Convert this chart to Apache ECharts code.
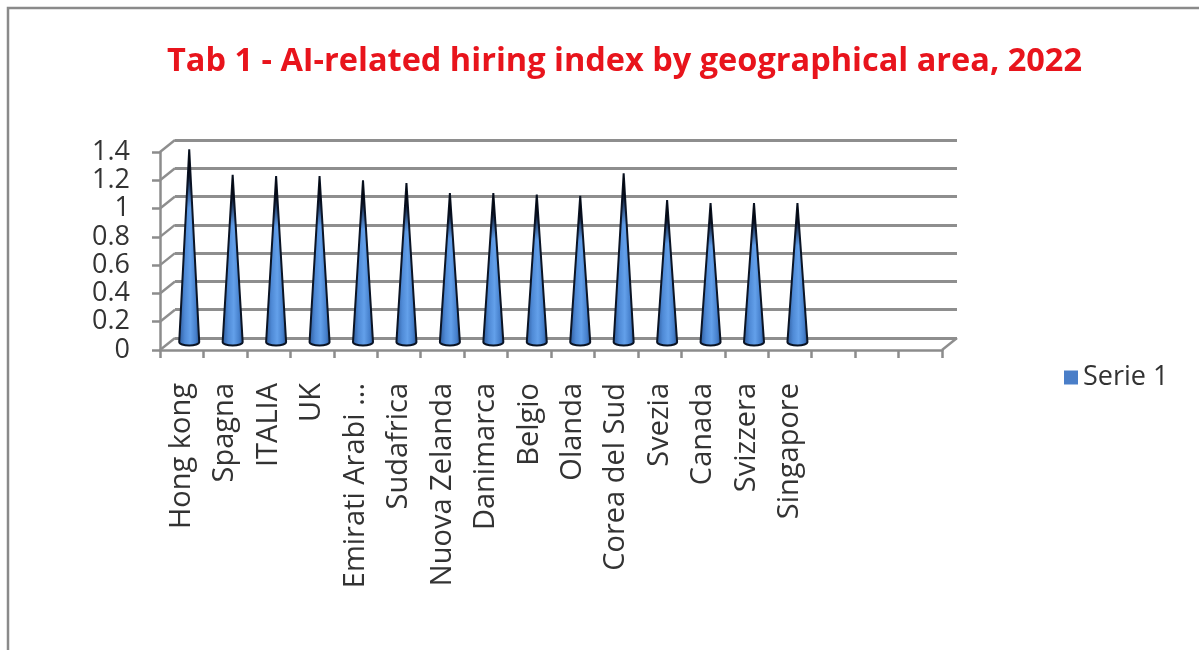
<!DOCTYPE html>
<html>
<head>
<meta charset="utf-8">
<script src="https://cdn.jsdelivr.net/npm/echarts@6/dist/echarts.min.js"></script>
<style>
html,body{margin:0;padding:0;background:#fff;}
#chart{width:1199px;height:650px;}
</style>
</head>
<body>
<div id="chart"></div>
<script>
const titleText = 'Tab 1 - AI-related hiring index by geographical area, 2022';
const seriesName = 'Serie 1';
const categories = ['Hong kong','Spagna','ITALIA','UK','Emirati Arabi ...','Sudafrica','Nuova Zelanda','Danimarca','Belgio','Olanda','Corea del Sud','Svezia','Canada','Svizzera','Singapore','','',''];
const values = [1.37, 1.19, 1.18, 1.18, 1.15, 1.13, 1.06, 1.06, 1.05, 1.04, 1.20, 1.01, 0.99, 0.99, 0.99];
const yTicks = [0, 0.2, 0.4, 0.6, 0.8, 1, 1.2, 1.4];

const yMin = yTicks[0], yMax = yTicks[yTicks.length - 1], yStep = yTicks[1] - yTicks[0];
const FONT = 'Open Sans';
const DEPTH_X = 15, DEPTH_Y = 12;

const chart = echarts.init(document.getElementById('chart'), null, {renderer: 'canvas'});

function coneItem(params, api) {
  const i = api.value(0), v = api.value(1);
  const tip = api.coord([i, v]);
  const base = api.coord([i, 0]);
  const hw = 10, ry = 3.5;
  const cx = base[0];
  const by = base[1] - 1;
  const d = 'M' + cx + ',' + tip[1] +
    ' L' + (cx + hw) + ',' + by +
    ' A' + hw + ',' + ry + ' 0 0 1 ' + (cx - hw) + ',' + by + ' Z';
  return {
    type: 'group',
    children: [
      {
        type: 'path',
        shape: {pathData: d},
        style: {
          fill: new echarts.graphic.LinearGradient(0, 0, 1, 0, [
            {offset: 0, color: '#2a5594'},
            {offset: 0.3, color: '#4f8ad6'},
            {offset: 0.55, color: '#63a0ea'},
            {offset: 0.8, color: '#4680cc'},
            {offset: 1, color: '#24487e'}
          ]),
          stroke: '#0b1424',
          lineWidth: 2
        }
      },
      {
        type: 'path',
        shape: {pathData: d},
        style: {
          fill: new echarts.graphic.LinearGradient(0, 0, 0, 1, [
            {offset: 0, color: 'rgba(0,0,0,1)'},
            {offset: 0.14, color: 'rgba(5,10,25,0.9)'},
            {offset: 0.3, color: 'rgba(20,40,80,0)'},
            {offset: 1, color: 'rgba(0,0,0,0)'}
          ]),
          stroke: null
        }
      }
    ]
  };
}

function depthItem(params, api) {
  const v = api.value(1);
  const p = api.coord([0, v]);
  const cs = params.coordSys;
  const children = [{
    type: 'line',
    shape: {x1: cs.x, y1: p[1], x2: cs.x + DEPTH_X, y2: p[1] - DEPTH_Y},
    style: {stroke: '#8e8e8e', lineWidth: 2.5}
  }];
  if (v === yMin) {
    children.push({
      type: 'line',
      shape: {x1: cs.x + cs.width, y1: p[1], x2: cs.x + cs.width + DEPTH_X, y2: p[1] - DEPTH_Y},
      style: {stroke: '#8e8e8e', lineWidth: 2.5}
    });
  }
  return {type: 'group', children: children};
}

const option = {
  backgroundColor: '#ffffff',
  animation: false,
  title: {
    text: titleText,
    left: 162,
    top: 40,
    textStyle: {fontFamily: FONT, fontWeight: 'bold', fontSize: 32.5, color: '#e8141c'}
  },
  legend: {
    data: [seriesName],
    left: 1059,
    top: 359,
    icon: 'rect',
    itemWidth: 14,
    itemHeight: 14,
    itemGap: 9,
    textStyle: {fontFamily: FONT, fontSize: 27, color: '#333'}
  },
  grid: [
    {left: 160 + DEPTH_X, top: 152 - DEPTH_Y, width: 782, height: 198, containLabel: false},
    {left: 160, top: 152, width: 782, height: 198, containLabel: false},
    {left: 160 + DEPTH_X / 2, top: 152 - DEPTH_Y / 2 - 1, width: 782, height: 198, containLabel: false}
  ],
  xAxis: [
    {gridIndex: 0, type: 'category', data: categories, show: false, boundaryGap: true},
    {
      gridIndex: 1, type: 'category', data: categories, boundaryGap: true,
      axisLine: {show: true, lineStyle: {color: '#8c8c8c', width: 2.5}},
      axisTick: {show: true, length: 8, interval: 0, lineStyle: {color: '#8c8c8c', width: 2.5}},
      axisLabel: {interval: 0, rotate: 90, margin: 33, fontFamily: FONT, fontSize: 29, color: '#333'}
    },
    {gridIndex: 2, type: 'category', data: categories, show: false, boundaryGap: true}
  ],
  yAxis: [
    {
      gridIndex: 0, type: 'value', min: yMin, max: yMax, interval: yStep,
      axisLine: {show: false}, axisTick: {show: false}, axisLabel: {show: false},
      splitLine: {show: true, lineStyle: {color: '#8e8e8e', width: 3}}
    },
    {
      gridIndex: 1, type: 'value', min: yMin, max: yMax, interval: yStep,
      axisLine: {show: true, lineStyle: {color: '#8c8c8c', width: 2.5}},
      axisTick: {show: true, length: 8, lineStyle: {color: '#8c8c8c', width: 2.5}},
      axisLabel: {margin: 30, fontFamily: FONT, fontSize: 27, color: '#333',
        formatter: function (v) { return String(Math.round(v * 10) / 10); }},
      splitLine: {show: false}
    },
    {gridIndex: 2, type: 'value', min: yMin, max: yMax, interval: yStep, show: false, splitLine: {show: false}}
  ],
  graphic: [
    {type: 'rect', shape: {x: 8, y: 8, width: 1210, height: 670}, style: {fill: null, stroke: '#8a8a8a', lineWidth: 2.5}, silent: true, z: 100}
  ],
  series: [
    {
      name: '_depth',
      type: 'custom',
      xAxisIndex: 1, yAxisIndex: 1,
      renderItem: depthItem,
      clip: false,
      silent: true,
      data: yTicks.map(t => [0, t]),
      z: 1
    },
    {
      name: seriesName,
      type: 'custom',
      xAxisIndex: 2, yAxisIndex: 2,
      renderItem: coneItem,
      clip: false,
      itemStyle: {color: '#4a7ec8'},
      data: values.map((v, i) => [i, v]),
      z: 5
    }
  ]
};
chart.setOption(option);
</script>
</body>
</html>
